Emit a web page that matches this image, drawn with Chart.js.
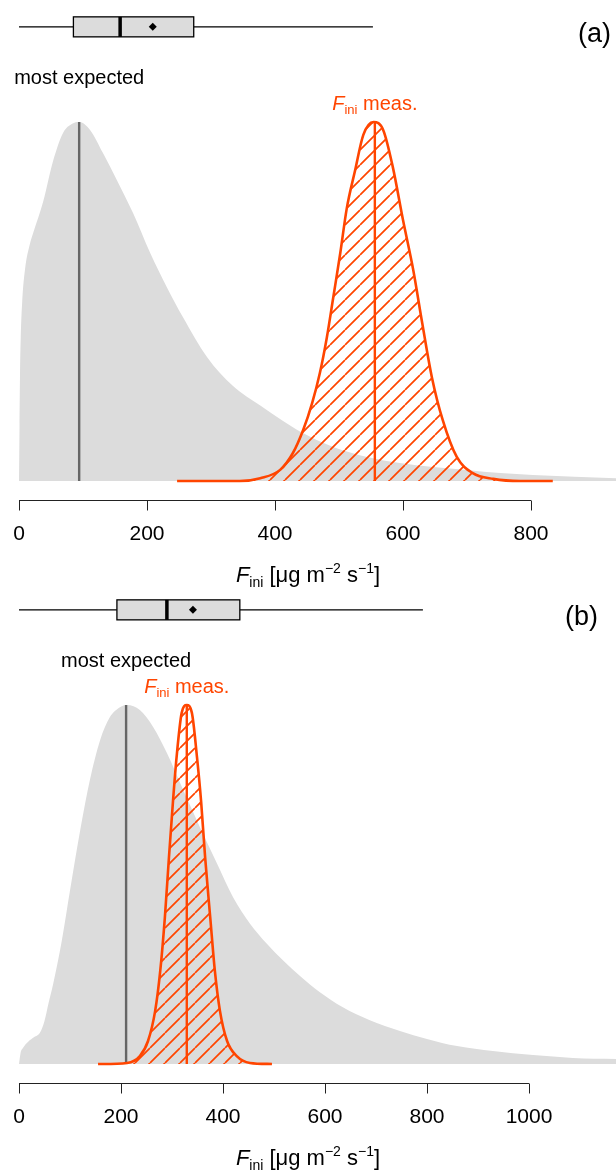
<!DOCTYPE html>
<html>
<head>
<meta charset="utf-8">
<script src="https://cdn.jsdelivr.net/npm/chart.js@4.4.0/dist/chart.umd.min.js"></script>
<style>
  html, body { margin: 0; padding: 0; background: #fff; }
  #wrap { position: relative; width: 616px; height: 1170px; }
  #wrap canvas { position: absolute; left: 0; display: block; }
  #chart-a { top: 0; }
  #chart-b { top: 583px; }
</style>
</head>
<body>
<div id="wrap">
<canvas id="chart-a" width="616" height="600"></canvas>
<canvas id="chart-b" width="616" height="587"></canvas>
</div>
<script>
// ---- datos ----
// (a) densidad esperada (gris) y medida (naranja), altura normalizada al pico
const priorXA = [0, 0.8, 1.6, 2.7, 5, 9.4, 17, 22, 38, 53, 69, 83, 94, 111, 131, 153, 178, 205, 231, 256, 294, 334, 377, 412, 439, 491, 544, 595, 647, 700, 752, 803, 933];
const priorYA = [0, 0.15, 0.30, 0.40, 0.50, 0.59, 0.66, 0.69, 0.78, 0.89, 0.97, 0.995, 1.0, 0.978, 0.914, 0.838, 0.747, 0.635, 0.540, 0.457, 0.345, 0.265, 0.210, 0.168, 0.138, 0.095, 0.067, 0.050, 0.039, 0.031, 0.022, 0.017, 0.008];
const measXA = [247, 345, 377, 408, 428, 444, 458, 470, 481, 491, 502, 512, 525, 538, 554, 569, 584, 600, 616, 630, 645, 662, 684, 709, 741, 783, 834];
const measYA = [0, 0, 0.008, 0.031, 0.078, 0.142, 0.217, 0.30, 0.40, 0.511, 0.635, 0.758, 0.864, 0.964, 1.0, 0.978, 0.875, 0.727, 0.588, 0.440, 0.290, 0.170, 0.067, 0.022, 0.006, 0, 0];
const linesA = [94, 556];               // most expected, F_ini meas.
const boxA = [0, 85, 158, 273, 553];    // min, q1, mediana, q3, max
const meanA = 209;
const ticksA = [0, 200, 400, 600, 800];

// (b)
const priorXB = [0, 3, 8, 18, 30, 41, 50, 58, 67, 84, 100, 120, 139, 159, 178, 198, 212, 237, 263, 290, 322, 355, 388, 420, 453, 486, 518, 551, 590, 635, 688, 747, 800, 859, 929, 1008, 1086, 1171];
const priorYB = [0, 0.03, 0.045, 0.062, 0.075, 0.087, 0.12, 0.17, 0.223, 0.344, 0.483, 0.651, 0.791, 0.902, 0.966, 0.994, 1.0, 0.986, 0.939, 0.866, 0.763, 0.659, 0.559, 0.464, 0.391, 0.335, 0.288, 0.245, 0.200, 0.158, 0.122, 0.092, 0.070, 0.050, 0.036, 0.025, 0.017, 0.014];
const measXB = [155, 212, 237, 253, 267, 277, 286, 294, 302, 309, 319, 329, 339, 349, 357, 365, 375, 384, 394, 408, 427, 453, 496];
const measYB = [0, 0.003, 0.022, 0.064, 0.148, 0.260, 0.408, 0.575, 0.733, 0.855, 0.978, 1.0, 0.978, 0.855, 0.733, 0.575, 0.408, 0.260, 0.148, 0.064, 0.022, 0.003, 0];
const linesB = [210, 329];
const boxB = [0, 192, 290, 433, 792];
const meanB = 341;
const ticksB = [0, 200, 400, 600, 800, 1000];

// ---- estilos ----
const ORANGE = '#FF4500';
const GREY_FILL = '#DCDCDC';
const GREY_LINE = '#666666';
const FONT = '"Liberation Sans", Arial, Helvetica, sans-serif';
const PLOT_BOTTOM = 500;   // línea del eje x
const BOX_LEVEL = 1.265;   // altura del boxplot en unidades de y

function toPoints(xs, ys) {
    return xs.map((x, i) => ({ x: x, y: ys[i] }));
}

// patrón de rayado diagonal "/"
function makeHatch(color, step) {
    const c = document.createElement('canvas');
    c.width = step;
    c.height = step;
    const g = c.getContext('2d');
    g.strokeStyle = color;
    g.lineWidth = 1.7;
    g.beginPath();
    [-1, 0, 1].forEach(k => {
        g.moveTo(k * step, step);
        g.lineTo(k * step + step, 0);
    });
    g.stroke();
    return g.createPattern(c, 'repeat');
}

// texto con subíndices / superíndices
function drawRich(ctx, parts, cx, baseY, color) {
    let total = 0;
    const widths = parts.map(p => {
        ctx.font = (p.italic ? 'italic ' : '') + p.size + 'px ' + FONT;
        const w = ctx.measureText(p.text).width;
        total += w;
        return w;
    });
    let x = cx - total / 2;
    ctx.fillStyle = color;
    ctx.textAlign = 'left';
    ctx.textBaseline = 'alphabetic';
    parts.forEach((p, i) => {
        ctx.font = (p.italic ? 'italic ' : '') + p.size + 'px ' + FONT;
        ctx.fillText(p.text, x, baseY + (p.dy || 0));
        x += widths[i];
    });
}

const panelPlugin = {
    id: 'panelExtras',
    afterDraw(chart, args, opts) {
        const ctx = chart.ctx;
        const xs = chart.scales.x;
        const ys = chart.scales.y;
        ctx.save();

        // boxplot
        const by = ys.getPixelForValue(BOX_LEVEL);
        const px = opts.box.map(v => xs.getPixelForValue(v));
        ctx.strokeStyle = '#000';
        ctx.lineWidth = 1.3;
        ctx.beginPath();
        ctx.moveTo(px[0], by); ctx.lineTo(px[1], by);
        ctx.moveTo(px[3], by); ctx.lineTo(px[4], by);
        ctx.stroke();
        ctx.fillStyle = GREY_FILL;
        ctx.fillRect(px[1], by - 10, px[3] - px[1], 20);
        ctx.strokeRect(px[1], by - 10, px[3] - px[1], 20);
        ctx.lineWidth = 3.5;
        ctx.beginPath();
        ctx.moveTo(px[2], by - 10); ctx.lineTo(px[2], by + 10);
        ctx.stroke();
        const mx = xs.getPixelForValue(opts.mean);
        ctx.fillStyle = '#000';
        ctx.beginPath();
        ctx.moveTo(mx, by - 4); ctx.lineTo(mx + 4, by); ctx.lineTo(mx, by + 4); ctx.lineTo(mx - 4, by);
        ctx.closePath();
        ctx.fill();

        // etiqueta del panel
        ctx.font = '27px ' + FONT;
        ctx.textAlign = 'right';
        ctx.textBaseline = 'alphabetic';
        ctx.fillText(opts.tag, opts.tagX, 42);

        // etiquetas de las curvas
        const peak = ys.getPixelForValue(1);
        ctx.font = '20px ' + FONT;
        ctx.textAlign = 'center';
        ctx.fillStyle = '#000';
        ctx.fillText('most expected', xs.getPixelForValue(opts.lines[0]), peak - 38);
        drawRich(ctx, [
            { text: 'F', size: 20, italic: true },
            { text: 'ini', size: 13, dy: 4 },
            { text: ' meas.', size: 20 }
        ], xs.getPixelForValue(opts.lines[1]), peak - 12, ORANGE);

        // eje x al estilo R
        const y0 = PLOT_BOTTOM + 0.5;
        const first = xs.getPixelForValue(opts.ticks[0]);
        const last = xs.getPixelForValue(opts.ticks[opts.ticks.length - 1]);
        ctx.strokeStyle = '#222';
        ctx.lineWidth = 1;
        ctx.beginPath();
        ctx.moveTo(first, y0); ctx.lineTo(last, y0);
        opts.ticks.forEach(t => {
            const tx = Math.round(xs.getPixelForValue(t)) + 0.5;
            ctx.moveTo(tx, y0); ctx.lineTo(tx, y0 + 10);
        });
        ctx.stroke();
        ctx.fillStyle = '#000';
        ctx.font = '21px ' + FONT;
        ctx.textAlign = 'center';
        opts.ticks.forEach(t => ctx.fillText(String(t), xs.getPixelForValue(t), PLOT_BOTTOM + 40));

        drawRich(ctx, [
            { text: 'F', size: 22, italic: true },
            { text: 'ini', size: 14, dy: 5 },
            { text: ' [\u03BCg m', size: 22 },
            { text: '\u22122', size: 14, dy: -9 },
            { text: ' s', size: 22 },
            { text: '\u22121', size: 14, dy: -9 },
            { text: ']', size: 22 }
        ], chart.width / 2, PLOT_BOTTOM + 82, '#000');

        ctx.restore();
    }
};

function createPanel(canvasId, p) {
    const canvas = document.getElementById(canvasId);
    const hatch = makeHatch(ORANGE, 15);
    new Chart(canvas.getContext('2d'), {
        type: 'line',
        data: {
            datasets: [{
                data: toPoints(p.priorX, p.priorY),
                borderWidth: 0,
                borderColor: 'rgba(0,0,0,0)',
                backgroundColor: GREY_FILL,
                fill: 'origin',
                cubicInterpolationMode: 'monotone',
                order: 4
            }, {
                data: [{ x: p.lines[0], y: 0 }, { x: p.lines[0], y: 1 }],
                borderColor: GREY_LINE,
                borderWidth: 2.4,
                fill: false,
                order: 3
            }, {
                data: toPoints(p.measX, p.measY),
                borderColor: ORANGE,
                borderWidth: 2.6,
                backgroundColor: hatch,
                fill: 'origin',
                cubicInterpolationMode: 'monotone',
                order: 2
            }, {
                data: [{ x: p.lines[1], y: 0 }, { x: p.lines[1], y: 1 }],
                borderColor: ORANGE,
                borderWidth: 2.4,
                fill: false,
                order: 1
            }]
        },
        options: {
            responsive: false,
            animation: false,
            devicePixelRatio: 1,
            events: [],
            layout: { padding: { left: 0, right: 0, top: 0, bottom: canvas.height - PLOT_BOTTOM } },
            elements: { point: { radius: 0 } },
            scales: {
                x: { type: 'linear', min: p.xMin, max: p.xMax, display: false },
                y: { type: 'linear', min: -0.0529, max: 1.3398, display: false }
            },
            plugins: {
                legend: { display: false },
                tooltip: { enabled: false },
                panelExtras: {
                    box: p.box, mean: p.mean, lines: p.lines, ticks: p.ticks,
                    tag: p.tag, tagX: p.tagX
                }
            }
        },
        plugins: [panelPlugin]
    });
}

createPanel('chart-a', {
    priorX: priorXA, priorY: priorYA, measX: measXA, measY: measYA,
    lines: linesA, box: boxA, mean: meanA, ticks: ticksA,
    xMin: -29.7, xMax: 932.8, tag: '(a)', tagX: 611
});
createPanel('chart-b', {
    priorX: priorXB, priorY: priorYB, measX: measXB, measY: measYB,
    lines: linesB, box: boxB, mean: meanB, ticks: ticksB,
    xMin: -37.25, xMax: 1170.6, tag: '(b)', tagX: 598
});
</script>
</body>
</html>
